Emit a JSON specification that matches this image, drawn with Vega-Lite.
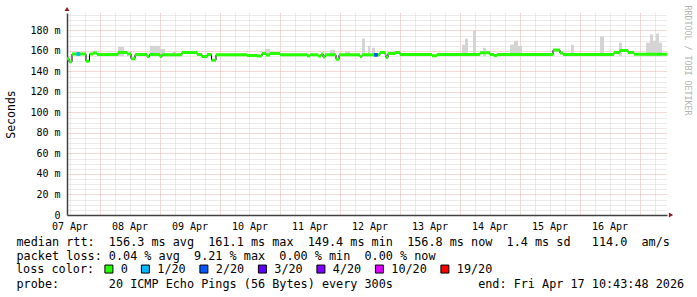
{
  "$schema": "https://vega.github.io/schema/vega-lite/v6.json",
  "width": 600,
  "height": 202,
  "autosize": {"type": "none"},
  "padding": {"left": 67, "top": 13, "right": 30, "bottom": 82},
  "background": "#ffffff",
  "config": {"view": {"stroke": null}, "font": "DejaVu Sans Mono"},
  "datasets": {
    "steps": [
      {"h":11,"h2":11.8,"m":152.5},{"h":11.8,"h2":13,"m":149.5},{"h":13,"h2":18.6,"m":157},{"h":18.6,"h2":20,"m":150},
      {"h":20,"h2":21.4,"m":157},{"h":21.4,"h2":23,"m":158},{"h":23,"h2":31.4,"m":156.5},{"h":31.4,"h2":35,"m":158.5},
      {"h":35,"h2":36.6,"m":157},{"h":36.6,"h2":38.2,"m":152.5},{"h":38.2,"h2":43,"m":156.5},{"h":43,"h2":44,"m":154.5},
      {"h":44,"h2":48.2,"m":156.5},{"h":48.2,"h2":49,"m":154.5},{"h":49,"h2":57,"m":156.3},{"h":57,"h2":63,"m":158.5},
      {"h":63,"h2":65,"m":156.5},{"h":65,"h2":67,"m":154.5},{"h":67,"h2":68.8,"m":156.5},{"h":68.8,"h2":70.6,"m":151},
      {"h":70.6,"h2":83,"m":156.2},{"h":83,"h2":87,"m":155.6},{"h":87,"h2":89,"m":155},{"h":89,"h2":90.6,"m":157.5},
      {"h":90.6,"h2":92.2,"m":156},{"h":92.2,"h2":96.2,"m":157.5},{"h":96.2,"h2":107,"m":156.2},{"h":107,"h2":108.2,"m":155.2},
      {"h":108.2,"h2":111.4,"m":156.3},{"h":111.4,"h2":112.6,"m":155},{"h":112.6,"h2":113.4,"m":157},{"h":113.4,"h2":114.2,"m":154},
      {"h":114.2,"h2":118.6,"m":156.2},{"h":118.6,"h2":119.8,"m":152},{"h":119.8,"h2":128.2,"m":156.2},{"h":128.2,"h2":129,"m":154.5},
      {"h":129,"h2":136.2,"m":156.2},{"h":136.2,"h2":138.2,"m":158.5},{"h":138.2,"h2":138.6,"m":156.5},{"h":138.6,"h2":139.4,"m":153.5},
      {"h":139.4,"h2":142.2,"m":157.5},{"h":142.2,"h2":144.2,"m":158.5},{"h":144.2,"h2":157,"m":156.5},{"h":157,"h2":159,"m":155.3},
      {"h":159,"h2":176.2,"m":156.5},{"h":176.2,"h2":180.2,"m":158.3},{"h":180.2,"h2":181.8,"m":156.5},{"h":181.8,"h2":183,"m":155.5},
      {"h":183,"h2":205.4,"m":156.5},{"h":205.4,"h2":208.2,"m":160.8},{"h":208.2,"h2":209.4,"m":158},{"h":209.4,"h2":229.8,"m":156.5},
      {"h":229.8,"h2":232.2,"m":158.5},{"h":232.2,"h2":235.4,"m":160.5},{"h":235.4,"h2":237.8,"m":158.5},{"h":237.8,"h2":251,"m":156.8}
    ],
    "smoke": [
      {"h":31.4,"h2":33.8,"lo":155,"hi":164},{"h":44.2,"h2":48.2,"lo":155,"hi":165},{"h":48.2,"h2":50.2,"lo":155,"hi":162},
      {"h":53.4,"h2":54.6,"lo":155,"hi":159},{"h":90.2,"h2":92.2,"lo":156,"hi":162},{"h":116.2,"h2":118.2,"lo":155,"hi":161},
      {"h":122.2,"h2":124.2,"lo":155,"hi":159.5},{"h":129,"h2":130.2,"lo":155,"hi":172},{"h":131.4,"h2":132.2,"lo":155,"hi":165},
      {"h":133,"h2":134.2,"lo":155,"hi":163},{"h":169,"h2":170.2,"lo":155,"hi":166},{"h":170.2,"h2":171.4,"lo":155,"hi":172},
      {"h":173.4,"h2":174.6,"lo":155,"hi":180},{"h":177.4,"h2":178.6,"lo":155,"hi":163},{"h":188.2,"h2":189.8,"lo":155,"hi":166},
      {"h":189.8,"h2":191.4,"lo":155,"hi":170},{"h":191.4,"h2":193,"lo":155,"hi":165},{"h":212.6,"h2":213.8,"lo":155,"hi":166},
      {"h":224.2,"h2":225.8,"lo":155,"hi":174},{"h":231.8,"h2":233,"lo":155,"hi":168},{"h":242.6,"h2":244.2,"lo":155,"hi":168},
      {"h":244.2,"h2":245.4,"lo":155,"hi":176},{"h":245.4,"h2":246.6,"lo":155,"hi":170},{"h":246.6,"h2":247.8,"lo":155,"hi":177},
      {"h":247.8,"h2":249,"lo":155,"hi":168}
    ],
    "loss": [
      {"h":15.5,"m":157,"loss":"1/20"},
      {"h":134.6,"m":156.2,"loss":"2/20"}
    ],
    "yarrow": [{"h":11,"m":200.9}],
    "xarrow": [{"h":252.6,"m":0}]
  },
  "resolve": {"axis": {"x": "independent", "y": "independent"}},
  "layer": [
    {
      "data": {"name": "smoke"},
      "mark": {"type": "rect", "fill": "#d4d4d4"},
      "encoding": {
        "x": {"field": "h", "type": "quantitative", "scale": {"domain": [11, 251], "nice": false, "zero": false},
          "axis": {"orient": "bottom", "values": [12,18,30,36,42,54,60,66,78,84,90,102,108,114,126,132,138,150,156,162,174,180,186,198,204,210,222,228,234,246],
            "grid": true, "gridColor": "#d4d4d4", "gridDash": [1, 1], "labels": false, "ticks": false, "domain": false, "title": null}},
        "x2": {"field": "h2"},
        "y": {"field": "lo", "type": "quantitative", "scale": {"domain": [0, 197], "nice": false},
          "axis": {"orient": "left", "values": [5,10,15,25,30,35,45,50,55,65,70,75,85,90,95,105,110,115,125,130,135,145,150,155,165,170,175,185,190,195],
            "grid": true, "gridColor": "#d4d4d4", "gridDash": [1, 1], "labels": false, "ticks": false, "domain": false, "title": null}},
        "y2": {"field": "hi"}
      }
    },
    {
      "data": {"name": "steps"},
      "mark": {"type": "line", "interpolate": "step-after", "stroke": "#000000", "strokeWidth": 1},
      "encoding": {
        "x": {"field": "h", "type": "quantitative",
          "axis": {"orient": "bottom", "values": [24,48,72,96,120,144,168,192,216,240], "grid": true, "gridColor": "#e6b0b0", "gridDash": [1, 1],
            "labels": false, "ticks": false, "domain": false, "title": null}},
        "y": {"field": "m", "type": "quantitative",
          "axis": {"orient": "left", "values": [20,40,60,80,100,120,140,160,180], "grid": true, "gridColor": "#e6b0b0", "gridDash": [1, 1],
            "labels": false, "ticks": false, "domain": false, "title": null}}
      }
    },
    {
      "data": {"name": "steps"},
      "mark": {"type": "rect", "stroke": "#26ff00", "fill": "#26ff00", "strokeWidth": 3},
      "encoding": {
        "x": {"field": "h", "type": "quantitative",
          "axis": {"orient": "bottom", "values": [12,36,60,84,108,132,156,180,204,228],
            "labelExpr": "['07 Apr','08 Apr','09 Apr','10 Apr','11 Apr','12 Apr','13 Apr','14 Apr','15 Apr','16 Apr'][floor(datum.value/24)]",
            "grid": false, "ticks": false, "labelPadding": 6, "labelFont": "DejaVu Sans Mono", "labelFontSize": 10, "labelColor": "#000000",
            "labelFlush": false, "labelOverlap": false, "domainColor": "#404040", "domainWidth": 1.5,
            "title": ["median rtt:\u00a0\u00a0156.3 ms avg\u00a0\u00a0161.1 ms max\u00a0\u00a0149.4 ms min\u00a0\u00a0156.8 ms now\u00a0\u00a01.4 ms sd\u00a0\u00a0\u00a0114.0\u00a0\u00a0am/s",
                      "packet loss:\u00a00.04 % avg\u00a0\u00a09.21 % max\u00a0\u00a00.00 % min\u00a0\u00a00.00 % now"],
            "titleX": -51, "titleY": 30, "titleAlign": "left", "titleAnchor": "start", "titleBaseline": "alphabetic",
            "titleFont": "DejaVu Sans Mono", "titleFontSize": 11.8, "titleFontWeight": "normal", "titleColor": "#000000", "titleLineHeight": 14}},
        "x2": {"field": "h2"},
        "y": {"field": "m", "type": "quantitative",
          "axis": {"orient": "left", "values": [0,20,40,60,80,100,120,140,160,180],
            "labelExpr": "datum.value == 0 ? '0' : datum.value + ' m'",
            "grid": false, "ticks": false, "labelPadding": 7, "labelFont": "DejaVu Sans Mono", "labelFontSize": 10, "labelColor": "#000000",
            "labelFlush": false, "labelOverlap": false, "domainColor": "#404040", "domainWidth": 1.5,
            "title": "Seconds", "titleX": -56, "titleY": 101, "titleAlign": "center", "titleBaseline": "middle", "titleAngle": 270,
            "titleFont": "DejaVu Sans Mono", "titleFontSize": 11.5, "titleFontWeight": "normal", "titleColor": "#000000"}},
        "y2": {"field": "m"}
      }
    },
    {
      "data": {"name": "loss"},
      "mark": {"type": "point", "shape": "square", "filled": true, "size": 14, "opacity": 1, "strokeWidth": 0},
      "encoding": {
        "x": {"field": "h", "type": "quantitative", "axis": null},
        "y": {"field": "m", "type": "quantitative",
          "axis": {"orient": "right", "labels": false, "ticks": false, "domain": false, "grid": false,
            "title": "RRDTOOL / TOBI OETIKER", "titleAngle": 90, "titleX": 19, "titleY": -8, "titleAlign": "left", "titleBaseline": "middle",
            "titleFont": "DejaVu Sans Mono", "titleFontSize": 8.3, "titleFontWeight": "normal", "titleColor": "#b4b4b4"}},
        "color": {"field": "loss", "type": "nominal",
          "scale": {"domain": ["0","1/20","2/20","3/20","4/20","10/20","19/20"],
                    "range": ["#26ff00","#00b8ff","#0059ff","#5e00ff","#7e00ff","#dd00ff","#ff0000"]},
          "legend": {"orient": "none", "legendX": -51, "legendY": 250, "direction": "horizontal", "columns": 7,
            "title": "loss color:", "titleOrient": "left", "titleFont": "DejaVu Sans Mono", "titleFontSize": 11.8, "titleFontWeight": "normal",
            "titleColor": "#000000", "titlePadding": 8, "labelFont": "DejaVu Sans Mono", "labelFontSize": 11.8, "labelColor": "#000000",
            "labelOffset": 6, "columnPadding": 10.5, "symbolType": "square", "symbolSize": 64, "symbolStrokeColor": "#000000",
            "symbolStrokeWidth": 1, "symbolOpacity": 1, "padding": 0,
            "encode": {"symbols": {"update": {"stroke": {"value": "#000000"}, "strokeWidth": {"value": 1}, "opacity": {"value": 1}}}}}}
      }
    },
    {
      "data": {"name": "yarrow"},
      "mark": {"type": "point", "shape": "triangle-up", "filled": true, "size": 24, "opacity": 1, "color": "#8b1a1a"},
      "encoding": {
        "x": {"field": "h", "type": "quantitative",
          "axis": {"orient": "bottom", "labels": false, "ticks": false, "domain": false, "grid": false,
            "title": "probe:\u00a0\u00a0\u00a0\u00a0\u00a0\u00a0\u00a020 ICMP Echo Pings (56 Bytes) every 300s\u00a0\u00a0\u00a0\u00a0\u00a0\u00a0\u00a0\u00a0\u00a0\u00a0\u00a0\u00a0end: Fri Apr 17 10:43:48 2026",
            "titleX": -51, "titleY": 72, "titleAlign": "left", "titleAnchor": "start", "titleBaseline": "alphabetic",
            "titleFont": "DejaVu Sans Mono", "titleFontSize": 11.8, "titleFontWeight": "normal", "titleColor": "#000000"}},
        "y": {"field": "m", "type": "quantitative", "axis": null}
      }
    },
    {
      "data": {"name": "xarrow"},
      "mark": {"type": "point", "shape": "triangle-right", "filled": true, "size": 24, "opacity": 1, "color": "#8b1a1a"},
      "encoding": {
        "x": {"field": "h", "type": "quantitative", "axis": null},
        "y": {"field": "m", "type": "quantitative", "axis": null}
      }
    }
  ]
}
